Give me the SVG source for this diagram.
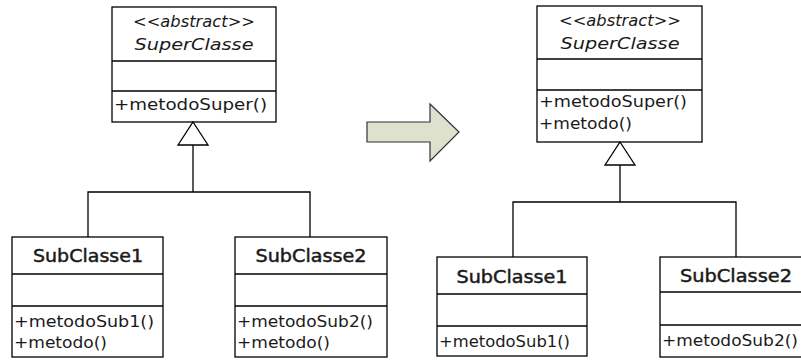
<svg xmlns="http://www.w3.org/2000/svg" width="801" height="360" viewBox="0 0 801 360">
  <style>
    .box { fill: #ffffff; stroke: #000000; stroke-width: 1.3; }
    .sep { stroke: #000000; stroke-width: 1.3; }
    .edge { fill: none; stroke: #000000; stroke-width: 1.3; }
    .tri { fill: #ffffff; stroke: #000000; stroke-width: 1.3; }
    text { font-family: "DejaVu Sans", "Liberation Sans", sans-serif; fill: #1a1a1a; }
    .stereo { font-size: 15px; font-style: italic; text-anchor: middle; }
    .name-i { font-size: 16px; font-style: italic; text-anchor: middle; }
    .name { font-size: 17px; text-anchor: middle; stroke: #1a1a1a; stroke-width: 0.45; }
    .member { font-size: 16px; }
    .shift { fill: #dfe1cf; stroke: #333333; stroke-width: 1.2; }
  </style>

  <!-- left model: abstract superclass with two subclasses -->
  <g id="left-superclasse">
    <rect class="box" x="112" y="7" width="164" height="115"/>
    <line class="sep" x1="112" y1="61" x2="276" y2="61"/>
    <line class="sep" x1="112" y1="91" x2="276" y2="91"/>
    <text class="stereo" x="194" y="27" textLength="122" lengthAdjust="spacingAndGlyphs">&lt;&lt;abstract&gt;&gt;</text>
    <text class="name-i" x="194" y="50" textLength="119" lengthAdjust="spacingAndGlyphs">SuperClasse</text>
    <text class="member" x="114" y="110" textLength="153" lengthAdjust="spacingAndGlyphs">+metodoSuper()</text>
  </g>

  <g id="left-subclasse1">
    <rect class="box" x="12" y="237" width="151" height="120"/>
    <line class="sep" x1="12" y1="274" x2="163" y2="274"/>
    <line class="sep" x1="12" y1="306" x2="163" y2="306"/>
    <text class="name" x="88" y="262" textLength="110" lengthAdjust="spacingAndGlyphs">SubClasse1</text>
    <text class="member" x="14" y="327" textLength="140" lengthAdjust="spacingAndGlyphs">+metodoSub1()</text>
    <text class="member" x="14" y="348" textLength="93" lengthAdjust="spacingAndGlyphs">+metodo()</text>
  </g>

  <g id="left-subclasse2">
    <rect class="box" x="235" y="237" width="152" height="120"/>
    <line class="sep" x1="235" y1="274" x2="387" y2="274"/>
    <line class="sep" x1="235" y1="306" x2="387" y2="306"/>
    <text class="name" x="311" y="262" textLength="111" lengthAdjust="spacingAndGlyphs">SubClasse2</text>
    <text class="member" x="237" y="327" textLength="136" lengthAdjust="spacingAndGlyphs">+metodoSub2()</text>
    <text class="member" x="237" y="348" textLength="93" lengthAdjust="spacingAndGlyphs">+metodo()</text>
  </g>

  <!-- right model: metodo() pulled up into the superclass -->
  <g id="right-superclasse">
    <rect class="box" x="537" y="6" width="165" height="136"/>
    <line class="sep" x1="537" y1="59" x2="702" y2="59"/>
    <line class="sep" x1="537" y1="90" x2="702" y2="90"/>
    <text class="stereo" x="620" y="26" textLength="122" lengthAdjust="spacingAndGlyphs">&lt;&lt;abstract&gt;&gt;</text>
    <text class="name-i" x="620" y="49" textLength="119" lengthAdjust="spacingAndGlyphs">SuperClasse</text>
    <text class="member" x="539" y="107" textLength="148" lengthAdjust="spacingAndGlyphs">+metodoSuper()</text>
    <text class="member" x="539" y="129" textLength="93" lengthAdjust="spacingAndGlyphs">+metodo()</text>
  </g>

  <g id="right-subclasse1">
    <rect class="box" x="437" y="257" width="150" height="99"/>
    <line class="sep" x1="437" y1="294" x2="587" y2="294"/>
    <line class="sep" x1="437" y1="326" x2="587" y2="326"/>
    <text class="name" x="512" y="283" textLength="111" lengthAdjust="spacingAndGlyphs">SubClasse1</text>
    <text class="member" x="439" y="347" textLength="131" lengthAdjust="spacingAndGlyphs">+metodoSub1()</text>
  </g>

  <g id="right-subclasse2">
    <rect class="box" x="660" y="257" width="152" height="100"/>
    <line class="sep" x1="660" y1="292" x2="812" y2="292"/>
    <line class="sep" x1="660" y1="325" x2="812" y2="325"/>
    <text class="name" x="736" y="282" textLength="112" lengthAdjust="spacingAndGlyphs">SubClasse2</text>
    <text class="member" x="662" y="346" textLength="136" lengthAdjust="spacingAndGlyphs">+metodoSub2()</text>
  </g>

  <!-- generalisation connectors -->
  <g id="connectors">
    <polyline class="edge" points="88,237 88,192 310,192 310,237"/>
    <line class="edge" x1="193" y1="145" x2="193" y2="192"/>
    <polygon class="tri" points="193,122 208,145 178,145"/>

    <polyline class="edge" points="513,257 513,202 736,202 736,257"/>
    <line class="edge" x1="620" y1="165" x2="620" y2="202"/>
    <polygon class="tri" points="620,142 635,165 605,165"/>
  </g>

  <!-- block arrow between the two models -->
  <g id="transform-arrow">
    <polygon class="shift" points="367,122 430,122 430,104 459,132 430,161 430,142 367,142"/>
  </g>
</svg>
